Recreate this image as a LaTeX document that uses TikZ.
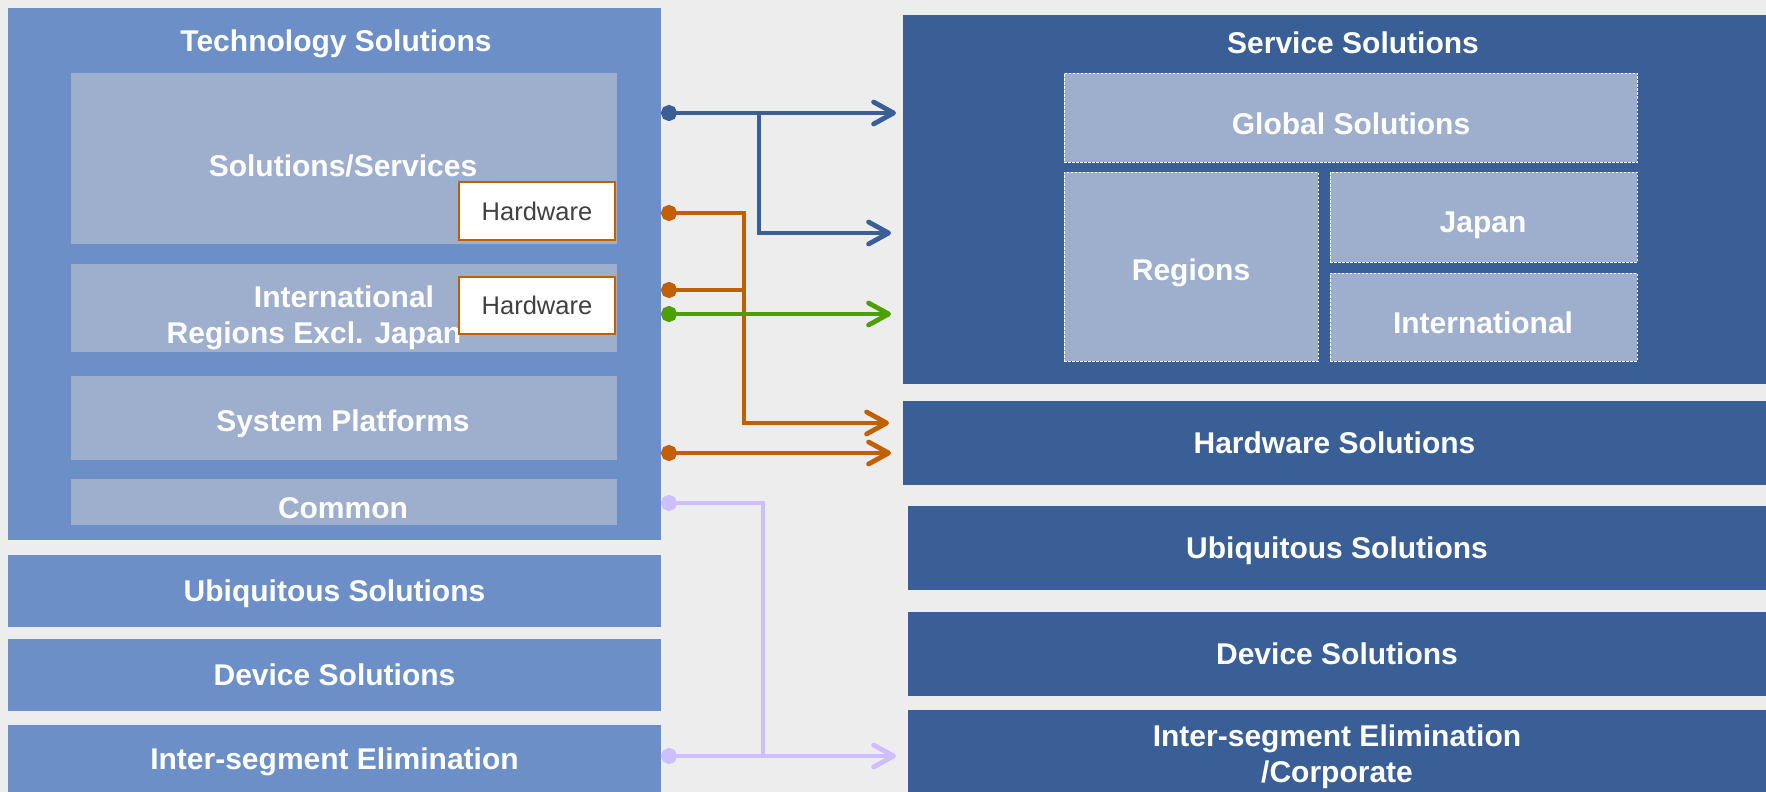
\documentclass[tikz,border=0pt]{standalone}
\usepackage{fontspec}
\setmainfont{Liberation Sans}
\usetikzlibrary{arrows.meta}
\definecolor{techblue}{RGB}{108,143,199}
\definecolor{paleblue}{RGB}{158,175,205}
\definecolor{darkblue}{RGB}{58,94,150}
\definecolor{hworange}{RGB}{193,96,0}
\definecolor{linkgreen}{RGB}{78,160,0}
\definecolor{lavender}{RGB}{204,190,255}
\definecolor{backgray}{RGB}{237,237,237}
\tikzset{
  seg/.style={fill=#1, draw=none, inner sep=0pt, outer sep=0pt, anchor=north west},
  lbl/.style={text=white, font=\bfseries\fontsize{30}{36}\selectfont, align=center},
  hwbox/.style={seg=white, draw=hworange, line width=2.5pt, text=black!75, font=\fontsize{25.5}{30}\selectfont},
  dashbox/.style={seg=paleblue, draw=white, line width=1pt, dash pattern=on 2.5pt off 1.5pt},
  wire/.style={line width=4.8pt, draw=#1},
  feed/.style={wire=#1, {Circle[length=16pt]}-{Straight Barb[length=20pt,width=22pt,round]}},
  branch/.style={wire=#1, -{Straight Barb[length=20pt,width=22pt,round]}},
  stub/.style={wire=#1, {Circle[length=16pt]}-},
}
\begin{document}
\begin{tikzpicture}[x=1pt, y=-1pt]
\useasboundingbox[fill=backgray] (0,0) rectangle (1766,792);
\clip (0,0) rectangle (1766,792);
% old segments
\node[seg=techblue, minimum width=653pt, minimum height=532pt] (tech) at (8,8) {};
\node[lbl] (techlbl) at (336,44) {Technology Solutions};
\node[seg=paleblue, minimum width=546pt, minimum height=171pt] (ss) at (71,73) {};
\node[lbl] (sslbl) at (343,166) {Solutions/Services};
\node[seg=paleblue, minimum width=546pt, minimum height=88pt] (intl) at (71,264) {};
\node[lbl] (intllbl) at (314,318) {\hspace*{60pt}International\\Regions Excl. Japan};
\node[seg=paleblue, minimum width=546pt, minimum height=84pt] (sys) at (71,376) {};
\node[lbl] (syslbl) at (343,424) {System Platforms};
\node[seg=paleblue, minimum width=546pt, minimum height=46pt] (com) at (71,479) {};
\node[lbl] (comlbl) at (343,508) {Common};
\node[hwbox, minimum width=156pt, minimum height=58pt] (hw1) at (459,182) {Hardware};
\node[hwbox, minimum width=156pt, minimum height=57pt] (hw2) at (459,277) {Hardware};
\node[seg=techblue, lbl, text depth=0pt, minimum width=653pt, minimum height=72pt] (ubiqL) at (8,555) {Ubiquitous Solutions};
\node[seg=techblue, lbl, minimum width=653pt, minimum height=72pt] (devL) at (8,639) {Device Solutions};
\node[seg=techblue, lbl, minimum width=653pt, minimum height=74pt] (elimL) at (8,725) {Inter-segment Elimination};
% new segments
\node[seg=darkblue, minimum width=863pt, minimum height=369pt] (svc) at (903,15) {};
\node[lbl] (svclbl) at (1353,43) {Service Solutions};
\node[dashbox, minimum width=573pt, minimum height=89pt] (glob) at (1064,73) {};
\node[lbl] (globlbl) at (1351,124) {Global Solutions};
\node[dashbox, minimum width=254pt, minimum height=189pt] (reg) at (1064,172) {};
\node[lbl] (reglbl) at (1191,273) {Regions};
\node[dashbox, minimum width=307pt, minimum height=90pt] (jap) at (1330,172) {};
\node[lbl] (japlbl) at (1483,225) {Japan};
\node[dashbox, minimum width=307pt, minimum height=88pt] (intlR) at (1330,273) {};
\node[lbl] (intlRlbl) at (1483,323) {International};
\node[seg=darkblue, lbl, minimum width=863pt, minimum height=84pt] (hwsol) at (903,401) {Hardware Solutions};
\node[seg=darkblue, lbl, text depth=0pt, minimum width=858pt, minimum height=84pt] (ubiqR) at (908,506) {Ubiquitous Solutions};
\node[seg=darkblue, lbl, minimum width=858pt, minimum height=84pt] (devR) at (908,612) {Device Solutions};
\node[seg=darkblue, lbl, minimum width=858pt, minimum height=94pt] (elimR) at (908,710) {Inter-segment Elimination\\/Corporate};
% links
\coordinate (srcSvc) at (tech.east |- 0,113);
\coordinate (srcHw1) at (tech.east |- 0,213);
\coordinate (srcHw2) at (tech.east |- 0,290);
\coordinate (srcIntl) at (tech.east |- 0,314);
\coordinate (srcSys) at (tech.east |- 0,453);
\coordinate (srcCom) at (tech.east |- 0,503);
\coordinate (srcElim) at (tech.east |- 0,756);
\coordinate (jBlue) at (759,113);
\coordinate (jHw) at (744,213);
\coordinate (jLav) at (763,503);
\draw[feed=darkblue, shorten >=7pt] (srcSvc) -- (svc.west |- srcSvc);
\draw[branch=darkblue, shorten >=12pt] (jBlue) |- (svc.west |- 0,233);
\draw[feed=hworange, shorten >=14pt] (srcHw1) -- (jHw) |- (hwsol.west |- 0,423);
\draw[stub=hworange] (srcHw2) -- (jHw |- srcHw2);
\draw[feed=linkgreen, shorten >=12pt] (srcIntl) -- (svc.west |- srcIntl);
\draw[feed=hworange, shorten >=12pt] (srcSys) -- (hwsol.west |- srcSys);
\draw[stub=lavender] (srcCom) -- (jLav) -- (jLav |- srcElim);
\draw[feed=lavender, shorten >=12pt] (srcElim) -- (elimR.west |- srcElim);
\end{tikzpicture}
\end{document}
